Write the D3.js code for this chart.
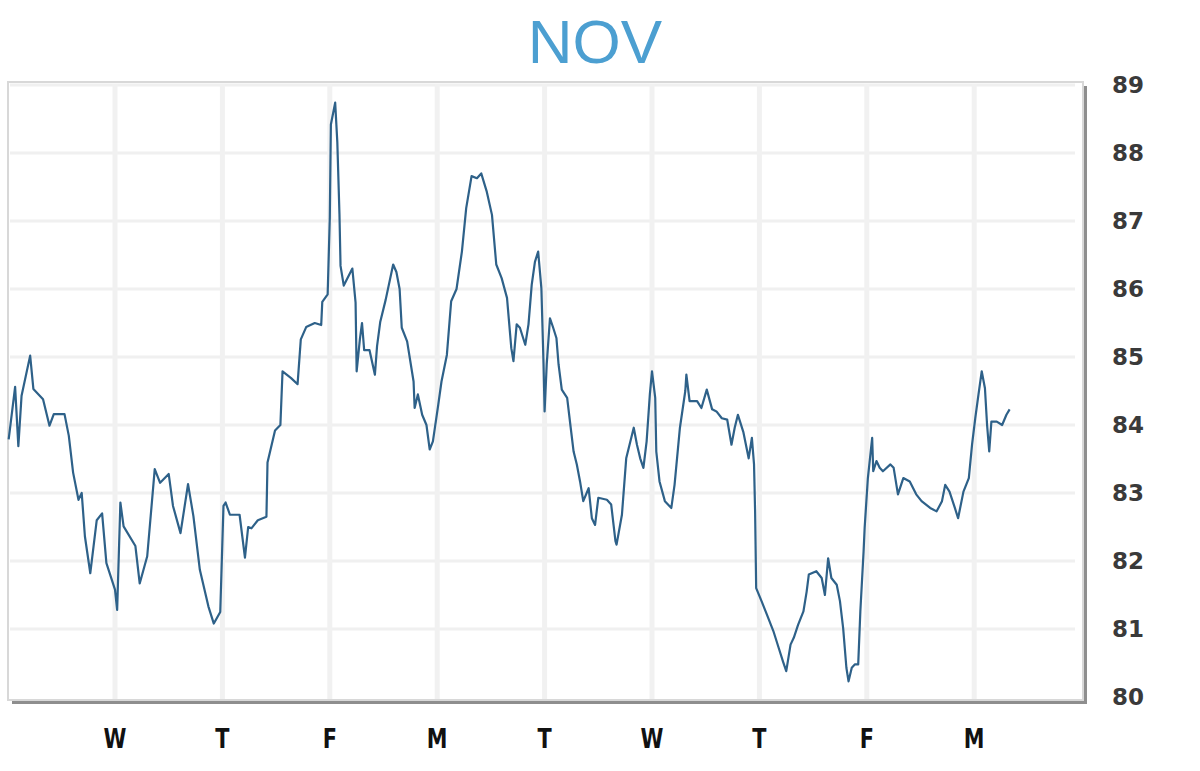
<!DOCTYPE html>
<html>
<head>
<meta charset="utf-8">
<script src="https://cdn.jsdelivr.net/npm/d3@7"></script>
<style>
  body { margin: 0; background: #fff; }
  svg { display: block; }
</style>
</head>
<body>
<div id="chart"></div>
<script>
// trading days shown under the plot (day index 1..9, day 0 = the Tuesday before)
const dayLabels = ['W', 'T', 'F', 'M', 'T', 'W', 'T', 'F', 'M'];
const dayIndex = [1, 2, 3, 4, 5, 6, 7, 8, 9];
const yTicks = [80, 81, 82, 83, 84, 85, 86, 87, 88, 89];

// time in trading days, price
const times = [
  0.01, 0.07, 0.10, 0.13, 0.21, 0.24, 0.33, 0.39, 0.43, 0.53, 0.57, 0.61, 0.66, 0.69, 0.72, 0.77,
  0.83, 0.88, 0.92, 1.00, 1.02, 1.05, 1.08, 1.19, 1.23, 1.30, 1.37, 1.42, 1.50, 1.54, 1.61, 1.68,
  1.73, 1.79, 1.87, 1.92, 1.98, 2.01, 2.03, 2.07, 2.16, 2.21, 2.24, 2.27, 2.33, 2.41, 2.42, 2.49,
  2.54, 2.56, 2.64, 2.70, 2.73, 2.78, 2.86, 2.92, 2.93, 2.98, 3.00, 3.01, 3.05, 3.07, 3.09, 3.10,
  3.13, 3.21, 3.24, 3.25, 3.28, 3.30, 3.32, 3.37, 3.42, 3.44, 3.47, 3.52, 3.59, 3.62, 3.65, 3.67,
  3.72, 3.78, 3.79, 3.82, 3.86, 3.90, 3.93, 3.96, 4.01, 4.04, 4.09, 4.13, 4.18, 4.23, 4.27, 4.32,
  4.37, 4.41, 4.46, 4.51, 4.55, 4.60, 4.65, 4.69, 4.71, 4.74, 4.77, 4.82, 4.85, 4.88, 4.91, 4.94,
  4.97, 4.99, 5.00, 5.02, 5.05, 5.08, 5.11, 5.13, 5.16, 5.21, 5.24, 5.27, 5.30, 5.33, 5.36, 5.41,
  5.44, 5.47, 5.50, 5.58, 5.62, 5.66, 5.67, 5.72, 5.76, 5.83, 5.86, 5.89, 5.92, 5.95, 5.98, 6.00,
  6.03, 6.04, 6.07, 6.12, 6.18, 6.21, 6.26, 6.31, 6.32, 6.35, 6.42, 6.46, 6.51, 6.56, 6.60, 6.65,
  6.70, 6.74, 6.77, 6.80, 6.85, 6.90, 6.93, 6.95, 6.96, 6.97, 7.02, 7.07, 7.13, 7.18, 7.22, 7.25,
  7.29, 7.32, 7.36, 7.41, 7.44, 7.46, 7.53, 7.58, 7.61, 7.64, 7.67, 7.72, 7.75, 7.78, 7.81, 7.83,
  7.86, 7.89, 7.92, 7.94, 7.97, 7.98, 8.01, 8.05, 8.06, 8.09, 8.12, 8.15, 8.22, 8.25, 8.29, 8.34,
  8.40, 8.46, 8.51, 8.59, 8.65, 8.70, 8.73, 8.77, 8.82, 8.85, 8.90, 8.95, 8.98, 9.01, 9.04, 9.07,
  9.10, 9.12, 9.14, 9.16, 9.21, 9.26, 9.30, 9.33
];
const prices = [
  83.79, 84.56, 83.69, 84.43, 85.02, 84.53, 84.38, 83.99, 84.16, 84.16, 83.84, 83.30, 82.90, 83.00, 82.36, 81.82,
  82.60, 82.70, 81.97, 81.58, 81.28, 82.86, 82.51, 82.22, 81.67, 82.07, 83.35, 83.15, 83.28, 82.81, 82.41, 83.13,
  82.66, 81.87, 81.33, 81.08, 81.25, 82.81, 82.86, 82.68, 82.68, 82.05, 82.50, 82.48, 82.60, 82.65, 83.45, 83.92,
  84.00, 84.79, 84.69, 84.60, 85.26, 85.44, 85.50, 85.47, 85.81, 85.92, 87.05, 88.42, 88.74, 88.16, 87.10, 86.34,
  86.05, 86.30, 85.80, 84.79, 85.26, 85.50, 85.10, 85.10, 84.74, 85.16, 85.52, 85.84, 86.36, 86.25, 86.00, 85.43,
  85.23, 84.64, 84.25, 84.45, 84.15, 84.00, 83.64, 83.76, 84.30, 84.64, 85.03, 85.82, 86.00, 86.55, 87.19, 87.66,
  87.63, 87.70, 87.44, 87.09, 86.36, 86.16, 85.87, 85.13, 84.94, 85.48, 85.43, 85.18, 85.48, 86.06, 86.40, 86.55,
  86.01, 84.90, 84.20, 84.90, 85.57, 85.43, 85.28, 84.89, 84.52, 84.40, 84.00, 83.61, 83.42, 83.17, 82.88, 83.07,
  82.63, 82.53, 82.93, 82.90, 82.83, 82.29, 82.24, 82.68, 83.51, 83.96, 83.71, 83.51, 83.37, 83.76, 84.45, 84.79,
  84.40, 83.61, 83.17, 82.88, 82.78, 83.12, 83.96, 84.50, 84.74, 84.35, 84.35, 84.25, 84.52, 84.23, 84.20, 84.10,
  84.08, 83.71, 83.96, 84.15, 83.90, 83.51, 83.81, 83.42, 82.73, 81.60, 81.41, 81.21, 80.97, 80.72, 80.52, 80.38,
  80.77, 80.87, 81.06, 81.26, 81.55, 81.80, 81.85, 81.75, 81.50, 82.04, 81.75, 81.65, 81.41, 81.01, 80.43, 80.23,
  80.43, 80.48, 80.48, 81.26, 82.14, 82.49, 83.22, 83.81, 83.32, 83.47, 83.37, 83.32, 83.42, 83.37, 82.98, 83.22,
  83.17, 82.98, 82.88, 82.78, 82.73, 82.88, 83.12, 83.02, 82.78, 82.63, 83.02, 83.22, 83.71, 84.10, 84.45, 84.79,
  84.54, 84.00, 83.61, 84.05, 84.05, 84.00, 84.15, 84.23
];

const width = 1200, height = 771;
const plot = {left: 8, top: 82, right: 1083, bottom: 700};

const svg = d3.select('#chart').append('svg')
  .attr('width', width)
  .attr('height', height);

const x = d3.scaleLinear().domain([0, 10]).range([7.6, 1081.6]);
const y = d3.scaleLinear().domain([80, 89]).range([697, 85]);

// title
svg.append('text')
  .attr('x', 595)
  .attr('y', 63)
  .attr('text-anchor', 'middle')
  .style('font-family', '"Liberation Sans", Arial, sans-serif')
  .style('font-size', '62px')
  .style('fill', '#4c9fd1')
  .text('NOV');

// shadow on right and bottom
svg.append('rect')
  .attr('x', plot.left + 4)
  .attr('y', plot.top + 4)
  .attr('width', plot.right - plot.left)
  .attr('height', plot.bottom - plot.top)
  .style('fill', '#8e8e8e');

svg.append('rect')
  .attr('x', plot.left)
  .attr('y', plot.top)
  .attr('width', plot.right - plot.left)
  .attr('height', plot.bottom - plot.top)
  .style('fill', '#fff')
  .style('stroke', '#d8d8d8')
  .style('stroke-width', 2);

// grid
svg.append('g')
  .selectAll('line')
  .data(yTicks.slice(1))
  .join('line')
  .attr('x1', plot.left + 2)
  .attr('x2', plot.right - 8)
  .attr('y1', d => y(d))
  .attr('y2', d => y(d))
  .style('stroke', '#f0f0f0')
  .style('stroke-width', 3);

svg.append('g')
  .selectAll('line')
  .data(dayIndex)
  .join('line')
  .attr('x1', d => x(d))
  .attr('x2', d => x(d))
  .attr('y1', plot.top + 2)
  .attr('y2', plot.bottom - 1)
  .style('stroke', '#f1f1f1')
  .style('stroke-width', 5);

// price line
const line = d3.line()
  .x((d, i) => x(times[i]))
  .y(d => y(d));

svg.append('path')
  .datum(prices)
  .attr('d', line)
  .style('fill', 'none')
  .style('stroke', '#2e6189')
  .style('stroke-width', 2.2)
  .style('stroke-linejoin', 'round');

// y labels on the right
svg.append('g')
  .selectAll('text')
  .data(yTicks)
  .join('text')
  .attr('x', 1128)
  .attr('y', d => y(d))
  .attr('dy', '0.36em')
  .attr('text-anchor', 'middle')
  .style('font-family', '"DejaVu Sans", Verdana, sans-serif')
  .style('font-weight', 'bold')
  .style('font-size', '23px')
  .style('fill', '#3a3a3a')
  .text(d => d);

// day labels, narrowed to look like the condensed pixel font
svg.append('g')
  .selectAll('text')
  .data(dayIndex)
  .join('text')
  .attr('transform', d => `translate(${x(d)},748) scale(0.8,1)`)
  .attr('text-anchor', 'middle')
  .style('font-family', '"DejaVu Sans", sans-serif')
  .style('font-weight', 'bold')
  .style('font-size', '26px')
  .style('fill', '#111')
  .text((d, i) => dayLabels[i]);
</script>
</body>
</html>
